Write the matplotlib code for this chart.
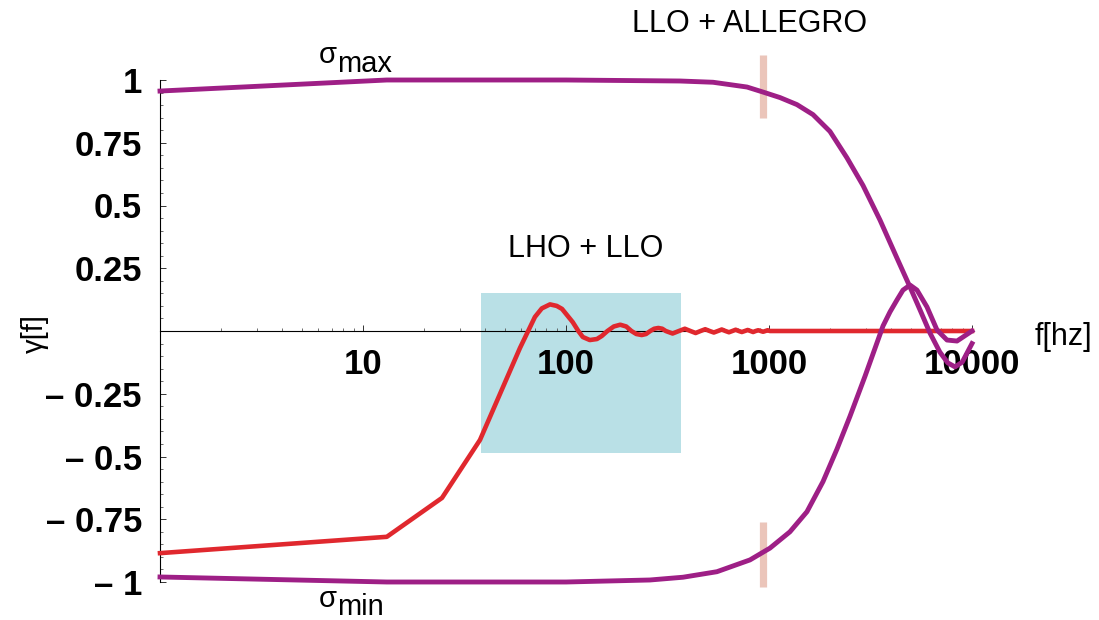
import matplotlib
matplotlib.use('Agg')
import matplotlib.pyplot as plt
from matplotlib.ticker import FixedLocator, LogLocator, NullFormatter

plt.rcParams['font.family'] = ['Liberation Sans', 'DejaVu Sans']

# gamma(f) for LHO + LLO (red)
f_gamma = [1, 13.1, 24.5, 37.7, 59.3, 70.3, 76, 83.4, 90, 95.6, 108, 115, 121, 131, 142, 150,
           160, 172, 185, 198, 210, 222, 236, 248, 260, 272, 285, 298, 310, 335, 360, 385,
           410, 435, 460, 485, 510, 535, 560, 585, 610, 635, 660, 685, 710, 735, 760, 785,
           810, 835, 860, 885, 910, 935, 960, 985, 1010, 10000]
gamma = [-0.885, -0.82, -0.665, -0.434, -0.068, 0.056, 0.090, 0.106, 0.100, 0.088, 0.035,
         0.0, -0.024, -0.036, -0.032, -0.020, 0.0, 0.018, 0.025, 0.018, 0.0, -0.012, -0.016,
         -0.012, 0.0, 0.009, 0.012, 0.009, 0.0, -0.010, 0.0, 0.009, 0.0, -0.008, 0.0, 0.007,
         0.0, -0.006, 0.0, 0.006, 0.0, -0.005, 0.0, 0.005, 0.0, -0.004, 0.0, 0.004, 0.0,
         -0.004, 0.0, 0.003, 0.0, -0.003, 0.0, 0.003, 0.0, 0.0]

# sigma_max (purple, upper)
f_smax = [1, 13.1, 100, 364, 530, 779, 934, 1133, 1373, 1648, 1997, 2421, 2904, 3522, 4272,
          4951, 5546, 6209, 6944, 7600, 8250, 8950, 10000]
smax = [0.956, 1.0, 1.0, 0.996, 0.991, 0.972, 0.952, 0.930, 0.902, 0.862, 0.795, 0.690,
        0.580, 0.442, 0.290, 0.175, 0.084, -0.008, -0.084, -0.127, -0.143, -0.124, -0.05]

# sigma_min (purple, lower)
f_smin = [1, 13.1, 100, 259, 377, 554, 806, 1011, 1268, 1538, 1845, 2163, 2505, 2972, 3644,
          3945, 4272, 4571, 4951, 5358, 6000, 6725, 7532, 8436, 10000]
smin = [-0.98, -1.0, -1.0, -0.992, -0.981, -0.959, -0.912, -0.865, -0.80, -0.72, -0.60,
        -0.47, -0.34, -0.18, 0.02, 0.076, 0.124, 0.163, 0.183, 0.163, 0.096, 0.004,
        -0.036, -0.04, 0.0]

# LHO + LLO band and ALLEGRO markers
band_f = [38.1, 369]
band_y = [-0.485, 0.153]
allegro_f = 935
allegro_top = [0.849, 1.10]
allegro_bot = [-1.02, -0.761]

yticks = [-1, -0.75, -0.5, -0.25, 0.25, 0.5, 0.75, 1]
ylabels = ['\u2013 1', '\u2013 0.75', '\u2013 0.5', '\u2013 0.25', '0.25', '0.5', '0.75', '1']
xticks = [10, 100, 1000, 10000]
xlabels = ['10', '100', '1000', '10000']

purple = '#9E1F86'
red = '#E0282E'

fig = plt.figure(figsize=(10.99, 6.2), dpi=100)
ax = fig.add_axes([160 / 1099, 38 / 620, 812 / 1099, 502 / 620])
ax.set_xscale('log')
ax.set_xlim(1, 10000)
ax.set_ylim(-1, 1)

ax.fill_between(band_f, band_y[0], band_y[1], color='#B9E0E6', lw=0, zorder=1)
ax.plot([allegro_f, allegro_f], allegro_top, color='#EBC5BA', lw=5.2,
        solid_capstyle='butt', clip_on=False, zorder=2)
ax.plot([allegro_f, allegro_f], allegro_bot, color='#EBC5BA', lw=5.2,
        solid_capstyle='butt', clip_on=False, zorder=2)

ax.plot(f_gamma, gamma, color=red, lw=3.3, clip_on=False, zorder=3)
ax.plot(f_smax, smax, color=purple, lw=3.5, clip_on=False, zorder=4)
ax.plot(f_smin, smin, color=purple, lw=3.5, clip_on=False, zorder=4)

# Mathematica-like axes
for s in ['top', 'right']:
    ax.spines[s].set_visible(False)
ax.spines['bottom'].set_position(('data', 0))
ax.spines['left'].set_linewidth(0.8)
ax.spines['bottom'].set_linewidth(0.8)

ax.xaxis.set_major_locator(FixedLocator(xticks))
ax.xaxis.set_minor_locator(LogLocator(base=10, subs=range(2, 10)))
ax.xaxis.set_minor_formatter(NullFormatter())
ax.set_xticklabels(xlabels)
ax.yaxis.set_major_locator(FixedLocator(yticks))
ax.yaxis.set_minor_locator(FixedLocator([i * 0.05 for i in range(-20, 21)]))
ax.set_yticklabels(ylabels)

ax.tick_params(axis='both', which='major', direction='in', length=4.5, width=0.7,
               labelsize=25, color='#333333')
ax.tick_params(axis='both', which='minor', direction='in', length=2.5, width=0.6,
               color='#555555')
ax.tick_params(axis='x', which='major', pad=12)
ax.tick_params(axis='y', which='major', pad=13)
for lab in ax.get_xticklabels() + ax.get_yticklabels():
    lab.set_fontweight('bold')

# annotations
ax.text(806, 1.223, 'LLO + ALLEGRO', fontsize=22, ha='center', va='center', clip_on=False)
ax.text(125.6, 0.327, 'LHO + LLO', fontsize=22, ha='center', va='center')
ax.text(20420, -0.024, 'f[hz]', fontsize=22, ha='left', va='center', clip_on=False)
ax.text(0.242, -0.008, '\u03b3[f]', fontsize=21, ha='center', va='center',
        rotation=90, clip_on=False)
ax.text(7.45, 1.068, '\u03c3', fontsize=21, ha='right', va='baseline', clip_on=False)
ax.text(7.45, 1.032, 'max', fontsize=21, ha='left', va='baseline', clip_on=False)
ax.text(7.45, -1.100, '\u03c3', fontsize=21, ha='right', va='baseline', clip_on=False)
ax.text(7.45, -1.131, 'min', fontsize=21, ha='left', va='baseline', clip_on=False)

fig.savefig('out.png', dpi=100)
